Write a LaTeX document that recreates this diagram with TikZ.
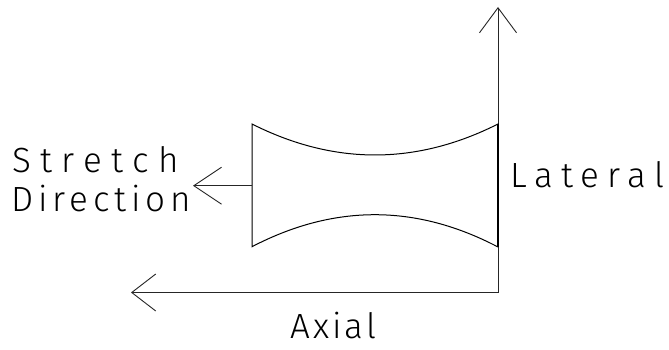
\documentclass[tikz,border=0pt]{standalone}
\usepackage{fontspec}
\newfontfamily\cadfont{Fira Sans Light}
\usetikzlibrary{arrows.meta}
\tikzset{
  thinline/.style={line width=0.9pt, draw=black!85},
  bigarrow/.style={thinline, -{Straight Barb[length=#1, width=37pt, line width=0.9pt]}},
  shapeline/.style={line width=1pt, draw=black, line join=miter},
  lbl/.style={anchor=base west, inner sep=0pt, font=\cadfont\fontsize{35}{35}\selectfont}
}
\begin{document}
\begin{tikzpicture}[x=1pt,y=1pt]
  \useasboundingbox (0,0) rectangle (669,349);
  \fill[white] (0,0) rectangle (669,349);
  % key points
  \coordinate (O) at (498,56.5);
  \coordinate (T) at (498,342);
  \coordinate (H) at (131,56.5);
  \coordinate (LT) at (252,225);
  \coordinate (LB) at (252,102.3);
  \coordinate (RT) at (498,225);
  \coordinate (RB) at (498,102);
  \coordinate (LM) at (252,163.3);
  \coordinate (S) at (193,163.3);
  % axes
  \draw[bigarrow=25pt] (O) -- (T);
  \draw[bigarrow=24pt] (O) -- (H);
  % specimen
  \draw[shapeline] (RB) -- (RT)
    .. controls (416,183.7) and (334,183.7) .. (LT)
    -- (LB)
    .. controls (334,145) and (416,145) .. (RB);
  \draw[line width=1.6pt] (RB) -- (RT);
  % stretch arrow
  \draw[bigarrow=27.7pt] (LM) -- (S);
  % labels
  \node[lbl] (stretch) at (12,177) {\addfontfeature{LetterSpace=27}Stretch};
  \node[lbl] (direction) at (11,138) {\addfontfeature{LetterSpace=14}Direction};
  \node[lbl] (lateral) at (510,162) {\addfontfeature{LetterSpace=23}Lateral};
  \node[lbl] (axial) at (290,11) {\addfontfeature{LetterSpace=9}Axial};
\end{tikzpicture}
\end{document}
